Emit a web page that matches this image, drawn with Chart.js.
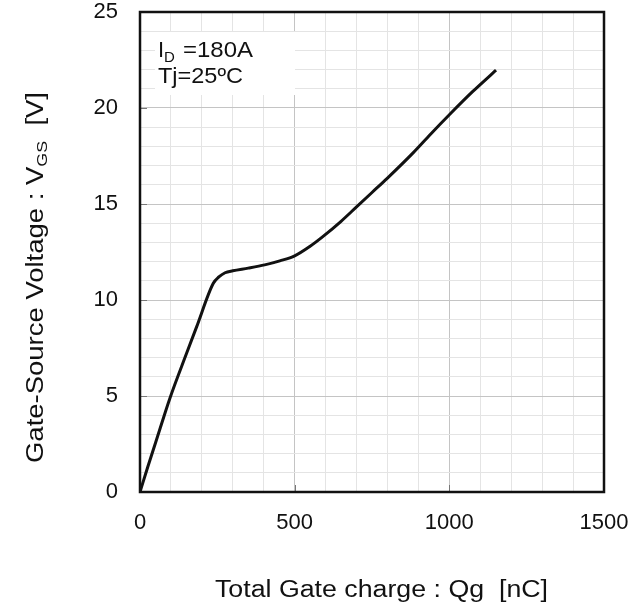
<!DOCTYPE html>
<html>
<head>
<meta charset="utf-8">
<script src="https://cdn.jsdelivr.net/npm/chart.js@4/dist/chart.umd.min.js"></script>
<style>
  html, body { margin: 0; padding: 0; background: #fff; }
  #wrap { width: 643px; height: 609px; }
</style>
</head>
<body>
<div id="wrap"><canvas id="myChart" width="643" height="609"></canvas></div>
<script>
// Datos (carga de puerta vs tension)
const gateCharge = [0, 25, 50, 97, 150, 183, 237, 255, 275, 300, 350, 403, 452, 500, 550, 591, 650, 700, 750, 800, 882, 940, 1000, 1075, 1151];
const gateVoltage = [0, 1.3, 2.55, 4.9, 7.2, 8.6, 10.87, 11.2, 11.42, 11.52, 11.66, 11.83, 12.04, 12.3, 12.8, 13.3, 14.1, 14.85, 15.6, 16.35, 17.65, 18.65, 19.65, 20.85, 21.97];

const xTickLabels = [0, 500, 1000, 1500];
const yTickLabels = [0, 5, 10, 15, 20, 25];

const FONT = 'Liberation Sans, Arial, sans-serif';

const points = gateCharge.map((q, i) => ({ x: q, y: gateVoltage[i] }));

// Escribe partes de texto (normal / subindice) estiradas a un ancho dado
function drawParts(c, parts, x, y, targetWidth) {
  let total = 0;
  parts.forEach((p) => {
    c.font = p.size + 'px ' + FONT;
    p.w = c.measureText(p.text).width;
    total += p.w;
  });
  const k = targetWidth ? targetWidth / total : 1;
  c.save();
  c.translate(x, y);
  c.scale(k, 1);
  let sx = 0;
  parts.forEach((p) => {
    c.font = p.size + 'px ' + FONT;
    c.fillText(p.text, sx, p.dy || 0);
    sx += p.w;
  });
  c.restore();
  return total * k;
}

// Titulos, anotacion, marco y marcas interiores
const decorations = {
  id: 'decorations',
  afterDraw(chart) {
    const c = chart.ctx;
    const a = chart.chartArea;
    const xs = chart.scales.x;
    const ys = chart.scales.y;
    c.save();

    // marcas cortas hacia dentro en los valores principales
    c.strokeStyle = '#777';
    c.lineWidth = 1;
    xTickLabels.forEach((v) => {
      const px = Math.round(xs.getPixelForValue(v)) + 0.5;
      c.beginPath(); c.moveTo(px, a.bottom); c.lineTo(px, a.bottom - 7); c.stroke();
    });
    yTickLabels.forEach((v) => {
      const py = Math.round(ys.getPixelForValue(v)) + 0.5;
      c.beginPath(); c.moveTo(a.left, py); c.lineTo(a.left + 7, py); c.stroke();
    });

    // marco
    c.strokeStyle = '#111';
    c.lineWidth = 2.5;
    c.strokeRect(a.left, a.top, a.right - a.left, a.bottom - a.top);

    // anotacion
    c.fillStyle = '#fff';
    c.fillRect(a.left + 15, a.top + 20, 140, 63);
    c.fillStyle = '#111';
    c.textBaseline = 'alphabetic';
    c.textAlign = 'left';
    drawParts(c, [{ text: 'I', size: 22 }, { text: 'D', size: 15, dy: 5 }], 158, 57, 0);
    drawParts(c, [{ text: '=180A', size: 22 }], 183, 57, 70);
    drawParts(c, [{ text: 'Tj=25ºC', size: 22 }], 158, 83, 85);

    // titulo eje x
    drawParts(c, [{ text: 'Total Gate charge : Qg  [nC]', size: 23 }], 215, 597, 333);

    // titulo eje y (girado, con subindice)
    c.save();
    c.translate(43, 463);
    c.rotate(-Math.PI / 2);
    drawParts(c, [
      { text: 'Gate-Source Voltage : V', size: 23 },
      { text: 'GS', size: 15, dy: 4 },
      { text: '  [V]', size: 23 },
    ], 0, 0, 371);
    c.restore();

    c.restore();
  },
};

const ctx = document.getElementById('myChart').getContext('2d');

const myChart = new Chart(ctx, {
  type: 'scatter',
  data: {
    datasets: [
      {
        data: points,
        showLine: true,
        borderColor: '#111',
        borderWidth: 3,
        pointRadius: 0,
        cubicInterpolationMode: 'monotone',
        fill: false,
      },
    ],
  },
  options: {
    responsive: false,
    animation: false,
    events: [],
    layout: { padding: { left: 0, right: 39, top: 12, bottom: 0 } },
    plugins: { legend: { display: false }, tooltip: { enabled: false } },
    scales: {
      x: {
        type: 'linear',
        min: 0,
        max: 1500,
        border: { display: false },
        afterFit: (scale) => {
          scale.height = 117;
          scale.paddingLeft = 0;
          scale.paddingRight = 0;
        },
        ticks: {
          stepSize: 100,
          autoSkip: false,
          maxRotation: 0,
          padding: 18,
          color: '#111',
          font: { family: FONT, size: 22 },
          callback: (v) => (xTickLabels.includes(v) ? String(v) : ''),
        },
        grid: {
          drawTicks: false,
          lineWidth: 1,
          color: (c) => (c.tick && c.tick.value % 500 === 0 ? '#c4c4c4' : '#e4e4e4'),
        },
      },
      y: {
        type: 'linear',
        min: 0,
        max: 25,
        border: { display: false },
        afterFit: (scale) => {
          scale.width = 140;
          scale.paddingTop = 0;
          scale.paddingBottom = 0;
        },
        ticks: {
          stepSize: 1,
          autoSkip: false,
          padding: 22,
          color: '#111',
          font: { family: FONT, size: 22 },
          callback: (v) => (yTickLabels.includes(v) ? String(v) : ''),
        },
        grid: {
          drawTicks: false,
          lineWidth: 1,
          color: (c) => (c.tick && c.tick.value % 5 === 0 ? '#c4c4c4' : '#e4e4e4'),
        },
      },
    },
  },
  plugins: [decorations],
});
</script>
</body>
</html>
